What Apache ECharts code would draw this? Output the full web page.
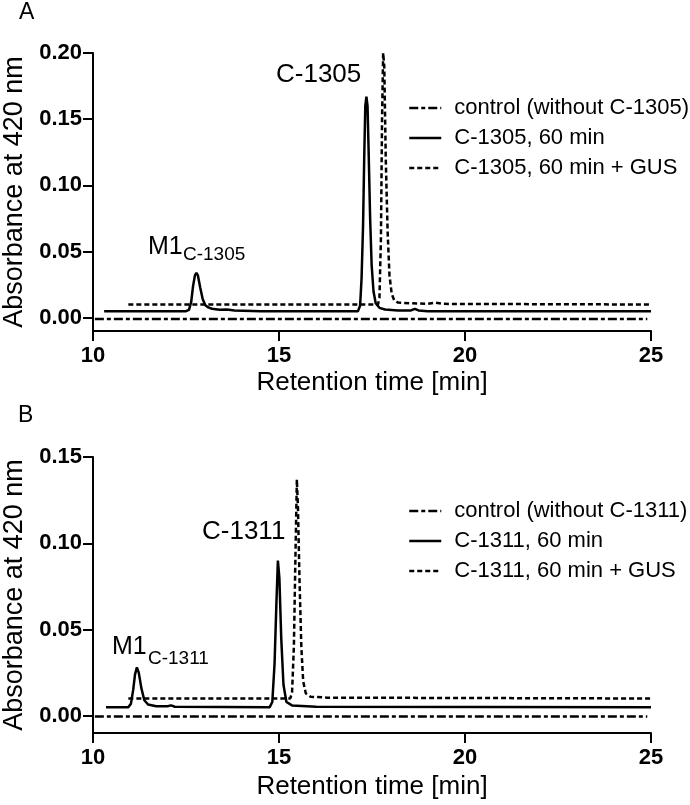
<!DOCTYPE html>
<html>
<head>
<meta charset="utf-8">
<script src="https://cdn.jsdelivr.net/npm/echarts@6/dist/echarts.min.js"></script>
<style>
html,body{margin:0;padding:0;background:#fff;}
#c{width:690px;height:805px;}
</style>
</head>
<body>
<div id="c"></div>
<script>
// ---------- data ----------
const xTicks = [10, 15, 20, 25];
const yTicksA = [0, 0.05, 0.10, 0.15, 0.20];
const yTicksB = [0, 0.05, 0.10, 0.15];

const namesA = ['control (without C-1305)', 'C-1305, 60 min', 'C-1305, 60 min + GUS'];
const namesB = ['control (without C-1311)', 'C-1311, 60 min', 'C-1311, 60 min + GUS'];

// Panel A
const controlA = [[10.05, -0.001], [24.9, -0.001]];
const solidA = [
  [10.3, 0.005], [12.5, 0.005], [12.58, 0.006], [12.64, 0.012], [12.69, 0.024], [12.74, 0.032],
  [12.78, 0.034], [12.82, 0.032], [12.88, 0.023], [12.95, 0.014], [13.02, 0.0095], [13.1, 0.0078],
  [13.2, 0.0068], [13.4, 0.006], [13.6, 0.0062], [13.8, 0.0055], [14.5, 0.005],
  [17.12, 0.005], [17.18, 0.009], [17.22, 0.03], [17.26, 0.07], [17.29, 0.12], [17.32, 0.16],
  [17.35, 0.167], [17.38, 0.16], [17.41, 0.125], [17.45, 0.075], [17.49, 0.04], [17.54, 0.02],
  [17.6, 0.011], [17.7, 0.0075], [17.85, 0.0062], [18.2, 0.0055], [18.55, 0.0055],
  [18.65, 0.0068], [18.75, 0.0055], [19.0, 0.005], [25, 0.005]
];
const gusA = [
  [10.95, 0.01], [17.66, 0.01], [17.7, 0.015], [17.74, 0.06], [17.77, 0.15], [17.8, 0.2],
  [17.83, 0.19], [17.87, 0.12], [17.92, 0.065], [17.97, 0.032], [18.03, 0.018], [18.1, 0.013],
  [18.2, 0.0115], [18.5, 0.011], [19.0, 0.0105], [19.2, 0.0115], [19.4, 0.0105], [25, 0.01]
];

// Panel B
const controlB = [[10.05, -0.0005], [24.9, -0.0005]];
const solidB = [
  [10.35, 0.005], [10.95, 0.005], [11.02, 0.007], [11.08, 0.015], [11.13, 0.024], [11.18, 0.028],
  [11.23, 0.025], [11.3, 0.016], [11.38, 0.009], [11.48, 0.0065], [11.7, 0.0055], [12.0, 0.0055],
  [12.1, 0.006], [12.2, 0.0052], [14.75, 0.005], [14.82, 0.008], [14.88, 0.03], [14.93, 0.065],
  [14.97, 0.09], [15.01, 0.08], [15.06, 0.045], [15.12, 0.018], [15.2, 0.008], [15.35, 0.006],
  [16.0, 0.0052], [25, 0.005]
];
const gusB = [
  [10.95, 0.01], [15.3, 0.01], [15.35, 0.013], [15.4, 0.04], [15.44, 0.09], [15.48, 0.137],
  [15.51, 0.12], [15.55, 0.08], [15.6, 0.04], [15.65, 0.02], [15.72, 0.013], [15.85, 0.011],
  [16.3, 0.0105], [25, 0.01]
];

// ---------- chart ----------
const FONT = "'Liberation Sans', Arial, Helvetica, sans-serif";
const C = '#000';
const chart = echarts.init(document.getElementById('c'), null, {renderer: 'canvas'});

function xAxis(gi, gap) {
  return {
    type: 'value', gridIndex: gi, min: 10, max: 25, interval: 5,
    name: 'Retention time [min]', nameLocation: 'middle', nameGap: gap,
    nameTextStyle: {fontFamily: FONT, fontSize: 26, color: C},
    axisLine: {show: true, onZero: false, lineStyle: {color: C, width: 2}},
    axisTick: {show: true, length: 10, lineStyle: {color: C, width: 2}},
    axisLabel: {fontFamily: FONT, fontSize: 22, fontWeight: 'bold', color: C, margin: 14,
      customValues: xTicks, formatter: v => String(v)},
    splitLine: {show: false}
  };
}
function yAxis(gi, max, ticks) {
  return {
    type: 'value', gridIndex: gi, min: -0.01, max: max,
    name: 'Absorbance at 420 nm', nameLocation: 'middle', nameGap: 65,
    nameTextStyle: {fontFamily: FONT, fontSize: 27, color: C},
    axisLine: {show: true, onZero: false, lineStyle: {color: C, width: 2}},
    axisTick: {show: true, length: 10, lineStyle: {color: C, width: 2}, customValues: ticks},
    axisLabel: {fontFamily: FONT, fontSize: 22, fontWeight: 'bold', color: C, margin: 11,
      customValues: ticks, formatter: v => v.toFixed(2)},
    splitLine: {show: false}
  };
}
function line(name, data, gi, type, width) {
  return {
    name: name, type: 'line', data: data, xAxisIndex: gi, yAxisIndex: gi,
    symbol: 'none', smooth: false, animation: false,
    lineStyle: {color: C, width: width, type: type},
    itemStyle: {color: C}
  };
}
const DASHDOT = [9, 3, 4, 3];
const DOT = [5, 3];

function legend(names, top) {
  return {
    data: names, left: 403, top: top, orient: 'vertical',
    itemWidth: 32, itemHeight: 14, itemGap: 8,
    itemStyle: {opacity: 0},
    lineStyle: {width: 2.5},
    textStyle: {fontFamily: FONT, fontSize: 22, color: C, padding: [0, 0, 0, 8]},
    selectedMode: false
  };
}

function txt(text, x, y, size) {
  return {type: 'text', x: x, y: y,
    style: {text: text, font: size + 'px ' + FONT, fill: C, textVerticalAlign: 'middle', verticalAlign: 'middle'}};
}

chart.setOption({
  backgroundColor: '#fff',
  animation: false,
  grid: [
    {left: 93, top: 53, width: 558, height: 278, containLabel: false, outerBoundsMode: 'none'},
    {left: 93, top: 457, width: 558, height: 276, containLabel: false, outerBoundsMode: 'none'}
  ],
  xAxis: [xAxis(0, 39), xAxis(1, 41)],
  yAxis: [yAxis(0, 0.20, yTicksA), yAxis(1, 0.15, yTicksB)],
  legend: [legend(namesA, 92), legend(namesB, 495)],
  series: [
    line(namesA[0], controlA, 0, DASHDOT, 2.5),
    line(namesA[1], solidA, 0, 'solid', 2.5),
    line(namesA[2], gusA, 0, DOT, 2.5),
    line(namesB[0], controlB, 1, DASHDOT, 2.5),
    line(namesB[1], solidB, 1, 'solid', 2.5),
    line(namesB[2], gusB, 1, DOT, 2.5)
  ],
  graphic: [
    txt('A', 19, 13, 23),
    txt('B', 18, 416, 23),
    txt('C-1305', 276, 75, 26),
    txt('M1', 148, 247, 25),
    txt('C-1305', 183, 255, 19),
    txt('C-1311', 202, 532, 26),
    txt('M1', 112, 647, 25),
    txt('C-1311', 148, 659, 19)
  ]
});
</script>
</body>
</html>
